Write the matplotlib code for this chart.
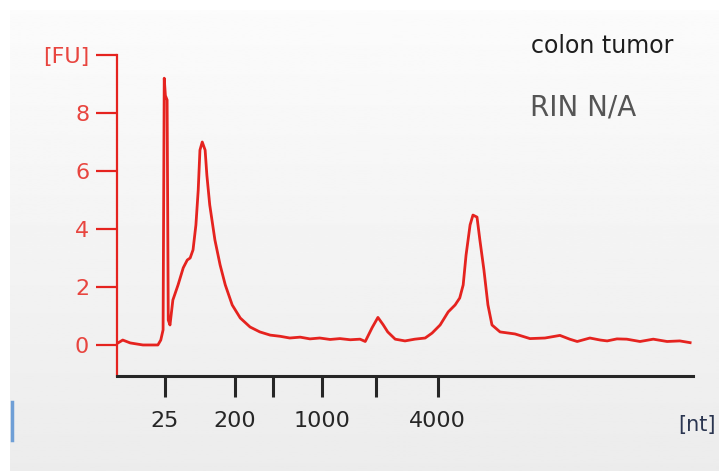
import numpy as np
import matplotlib.pyplot as plt
from matplotlib.lines import Line2D

# electropherogram trace: migration position (0-100 scale) vs fluorescence [FU]
mig_time = [0.0, 1.0, 2.3, 4.5, 7.1, 7.6, 8.0, 8.2, 8.4, 8.7, 8.9, 9.2, 9.7,
            10.6, 11.5, 12.2, 12.7, 13.2, 13.7, 14.1, 14.4, 14.8, 15.3, 15.6,
            16.1, 17.0, 17.9, 18.8, 20.0, 21.4, 23.1, 24.8, 26.6,
            28.3, 30.0, 31.8, 33.5, 35.2, 37.0, 38.7, 40.5, 42.2, 43.1, 44.3,
            45.3, 46.2, 47.0, 48.3, 50.0, 51.7, 53.5,
            54.7, 56.1, 57.5, 58.7, 59.5, 60.1, 60.6, 61.3, 61.8, 62.5, 63.0,
            63.7, 64.4, 65.1,
            66.5, 69.1, 71.7, 74.3, 76.9, 78.6, 79.9, 82.1, 83.9, 85.1, 86.8,
            88.5, 90.8, 93.1, 95.5, 97.7, 99.5]
fluor = [0.05, 0.17, 0.07, 0.00, 0.00, 0.17, 0.52, 9.20, 8.60, 8.45, 0.86,
         0.69, 1.55,
         2.07, 2.66, 2.93, 3.00, 3.28, 4.14, 5.34, 6.72, 7.00, 6.72, 5.86,
         4.83, 3.62, 2.76, 2.07, 1.38, 0.93, 0.62, 0.45, 0.34,
         0.30, 0.24, 0.27, 0.21, 0.24, 0.19, 0.22, 0.18, 0.20, 0.12, 0.60,
         0.95, 0.70, 0.45, 0.20, 0.14, 0.20, 0.24,
         0.41, 0.69, 1.14, 1.38, 1.62, 2.07, 3.10, 4.14, 4.48, 4.41, 3.62,
         2.59, 1.38, 0.69,
         0.45, 0.38, 0.22, 0.24, 0.33, 0.20, 0.12, 0.24, 0.17, 0.14, 0.21,
         0.20, 0.12, 0.20, 0.12, 0.14, 0.08]

# ladder positions and labels on the x axis
ladder_pos = [8.3, 20.5, 27.1, 35.6, 44.9, 55.7]
ladder_lab = ['25', '200', '', '1000', '', '4000']

fu_ticks = [0, 2, 4, 6, 8, 10]
fu_labels = ['0', '2', '4', '6', '8', '[FU]']

RED = '#e5231f'
DARK = '#262626'

fig = plt.figure(figsize=(7.19, 4.71), dpi=100)
fig.patch.set_facecolor('white')

# soft grey gradient panel behind the plot
bg = fig.add_axes([10 / 719, 0, 709 / 719, 461 / 471], zorder=-10)
grad = np.linspace(0.985, 0.925, 256).reshape(-1, 1)
bg.imshow(grad, aspect='auto', cmap='gray', vmin=0, vmax=1,
          extent=[0, 1, 0, 1])
bg.set_axis_off()

ax = fig.add_axes([117 / 719, 1 - 376 / 471, 576 / 719, 321 / 471])
ax.patch.set_alpha(0)
ax.plot(mig_time, fluor, color=RED, lw=2.0, solid_joinstyle='round')

ax.set_xlim(0, 100)
ax.set_ylim(-1.07, 10.0)

for s in ['top', 'right']:
    ax.spines[s].set_visible(False)
ax.spines['left'].set_color(RED)
ax.spines['left'].set_linewidth(1.6)
ax.spines['bottom'].set_color(DARK)
ax.spines['bottom'].set_linewidth(2.2)

ax.set_yticks(fu_ticks)
ax.set_yticklabels(fu_labels)
ax.tick_params(axis='y', colors=RED, labelcolor='#e8453f', length=15,
               width=1.6, pad=5, labelsize=16)
ax.set_xticks(ladder_pos)
ax.set_xticklabels(ladder_lab)
ax.tick_params(axis='x', colors=DARK, labelcolor=DARK, length=15,
               width=2.2, pad=10, labelsize=16)

fig.text(697 / 719, 1 - 425 / 471, '[nt]', fontsize=15, color='#2a3550',
         ha='center', va='center')
fig.text(531 / 719, 1 - 53 / 471, 'colon tumor', fontsize=17, color='#1e1e1e',
         ha='left', va='baseline')
fig.text(530 / 719, 1 - 116 / 471, 'RIN N/A', fontsize=20, color='#555555',
         ha='left', va='baseline')

# small blue marker at the left edge
fig.add_artist(Line2D([11.5 / 719, 11.5 / 719], [1 - 440 / 471, 1 - 402 / 471],
                      color='#6f9fd6', lw=2.5))

fig.savefig('out.png', dpi=100)
